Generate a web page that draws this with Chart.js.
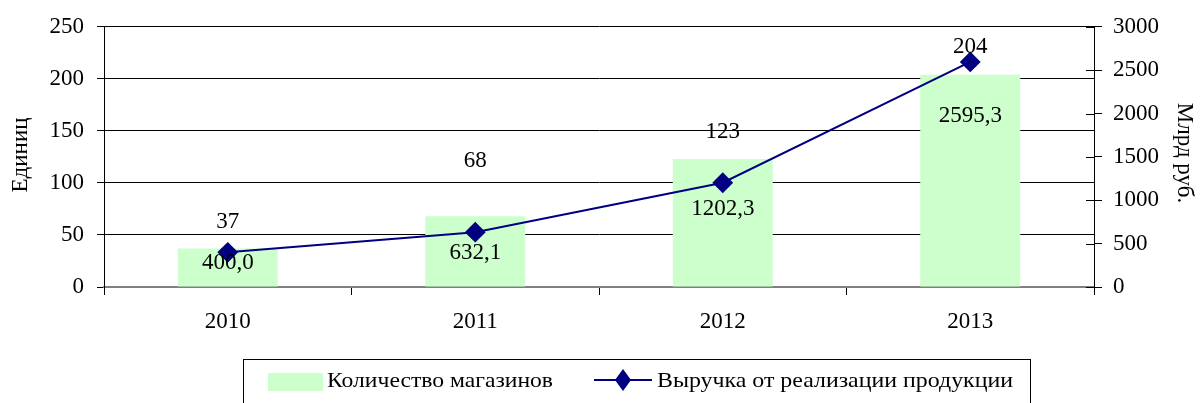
<!DOCTYPE html>
<html>
<head>
<meta charset="utf-8">
<script src="https://cdn.jsdelivr.net/npm/chart.js@4/dist/chart.umd.min.js"></script>
<style>
  html, body { margin: 0; padding: 0; background: #fff; }
  #wrap { width: 1200px; height: 403px; position: relative; }
</style>
</head>
<body>
<div id="wrap"><canvas id="chart"></canvas></div>
<script>
// Данные графика
const years = ['2010', '2011', '2012', '2013'];
const shops = [37, 68, 123, 204];
const revenue = [400.0, 632.1, 1202.3, 2595.3];

const leftTicks = [0, 50, 100, 150, 200, 250];
const rightTicks = [0, 500, 1000, 1500, 2000, 2500, 3000];

const FONT = '"Liberation Serif", "Times New Roman", serif';
const BAR_COLOR = '#CCFFCC';
const LINE_COLOR = '#000080';

// смещения подписей (как в исходной диаграмме)
const barLabelOffset = [27, 55, 27, 28];
const lineLabelOffset = [11, 21, 26, 54];

const fmt = v => v.toFixed(1).replace('.', ',');

// Подписи, заголовки осей и легенда
const extras = {
    id: 'extras',
    afterDatasetsDraw(chart) {
        const ctx = chart.ctx;
        const area = chart.chartArea;
        ctx.save();
        ctx.fillStyle = '#000';
        ctx.font = '23px ' + FONT;
        ctx.textAlign = 'center';
        ctx.textBaseline = 'middle';

        const bars = chart.getDatasetMeta(0).data;
        bars.forEach((b, i) => {
            ctx.fillText(String(shops[i]), b.x, b.y - barLabelOffset[i]);
        });
        const pts = chart.getDatasetMeta(1).data;
        pts.forEach((p, i) => {
            ctx.fillText(fmt(revenue[i]), p.x, p.y + lineLabelOffset[i]);
        });

        // внутренние засечки правой оси
        const y1 = chart.scales.y1;
        ctx.strokeStyle = '#000';
        ctx.lineWidth = 1;
        rightTicks.forEach(v => {
            const yy = Math.round(y1.getPixelForValue(v)) + 0.5;
            ctx.beginPath();
            ctx.moveTo(area.right - 8, yy);
            ctx.lineTo(area.right, yy);
            ctx.stroke();
        });

        // Заголовки осей
        ctx.save();
        ctx.translate(21, 155);
        ctx.rotate(-Math.PI / 2);
        ctx.fillText('Единиц', 0, 0);
        ctx.restore();

        ctx.save();
        ctx.translate(1184, 153);
        ctx.rotate(Math.PI / 2);
        ctx.fillText('Млрд руб.', 0, 0);
        ctx.restore();

        // Легенда
        ctx.strokeStyle = '#000';
        ctx.lineWidth = 1;
        ctx.strokeRect(243.5, 359.5, 787, 60);

        ctx.fillStyle = BAR_COLOR;
        ctx.fillRect(268, 373, 55, 18);

        ctx.strokeStyle = LINE_COLOR;
        ctx.lineWidth = 2;
        ctx.beginPath();
        ctx.moveTo(594, 380);
        ctx.lineTo(652, 380);
        ctx.stroke();
        ctx.fillStyle = LINE_COLOR;
        ctx.beginPath();
        ctx.moveTo(623, 369);
        ctx.lineTo(631, 380);
        ctx.lineTo(623, 391);
        ctx.lineTo(615, 380);
        ctx.closePath();
        ctx.fill();

        ctx.fillStyle = '#000';
        ctx.textAlign = 'left';
        ctx.font = '21px ' + FONT;
        const drawFitted = (text, x, y, w) => {
            const m = ctx.measureText(text).width;
            ctx.save();
            ctx.translate(x, y);
            ctx.scale(w / m, 1);
            ctx.fillText(text, 0, 0);
            ctx.restore();
        };
        drawFitted(chart.data.datasets[0].label, 327, 381, 226);
        drawFitted(chart.data.datasets[1].label, 657, 381, 356);

        ctx.restore();
    }
};

new Chart(document.getElementById('chart'), {
    data: {
        labels: years,
        datasets: [
            {
                type: 'bar',
                label: 'Количество магазинов',
                data: shops,
                yAxisID: 'y',
                backgroundColor: BAR_COLOR,
                borderWidth: 0,
                categoryPercentage: 1,
                barPercentage: 0.404,
                order: 1
            },
            {
                type: 'line',
                label: 'Выручка от реализации продукции',
                data: revenue,
                yAxisID: 'y1',
                borderColor: LINE_COLOR,
                backgroundColor: LINE_COLOR,
                borderWidth: 2,
                pointStyle: 'rectRot',
                pointRadius: 9,
                pointHoverRadius: 9,
                tension: 0,
                order: 0
            }
        ]
    },
    options: {
        responsive: true,
        maintainAspectRatio: false,
        animation: false,
        layout: { padding: { top: 25, bottom: 0, left: 0, right: 0 } },
        plugins: {
            legend: { display: false },
            tooltip: { enabled: false }
        },
        scales: {
            x: {
                type: 'category',
                offset: true,
                grid: { offset: true, drawOnChartArea: false, tickLength: 8, color: '#000' },
                border: { color: '#808080', width: 2 },
                ticks: { color: '#000', font: { family: FONT, size: 23 }, padding: 13, maxRotation: 0 },
                afterFit: s => { s.height = 116; }
            },
            y: {
                position: 'left',
                min: 0,
                max: 250,
                afterBuildTicks: s => { s.ticks = leftTicks.map(v => ({ value: v })); },
                grid: { color: '#000', tickLength: 7 },
                border: { color: '#000' },
                ticks: { color: '#000', font: { family: FONT, size: 23 }, padding: 13, callback: v => String(v) },
                afterFit: s => { s.width = 104; }
            },
            y1: {
                position: 'right',
                min: 0,
                max: 3000,
                afterBuildTicks: s => { s.ticks = rightTicks.map(v => ({ value: v })); },
                grid: { drawOnChartArea: false, color: '#000', tickLength: 8 },
                border: { color: '#000' },
                ticks: { color: '#000', font: { family: FONT, size: 23 }, padding: 11, callback: v => String(v) },
                afterFit: s => { s.width = 106; }
            }
        }
    },
    plugins: [extras]
});
</script>
</body>
</html>
